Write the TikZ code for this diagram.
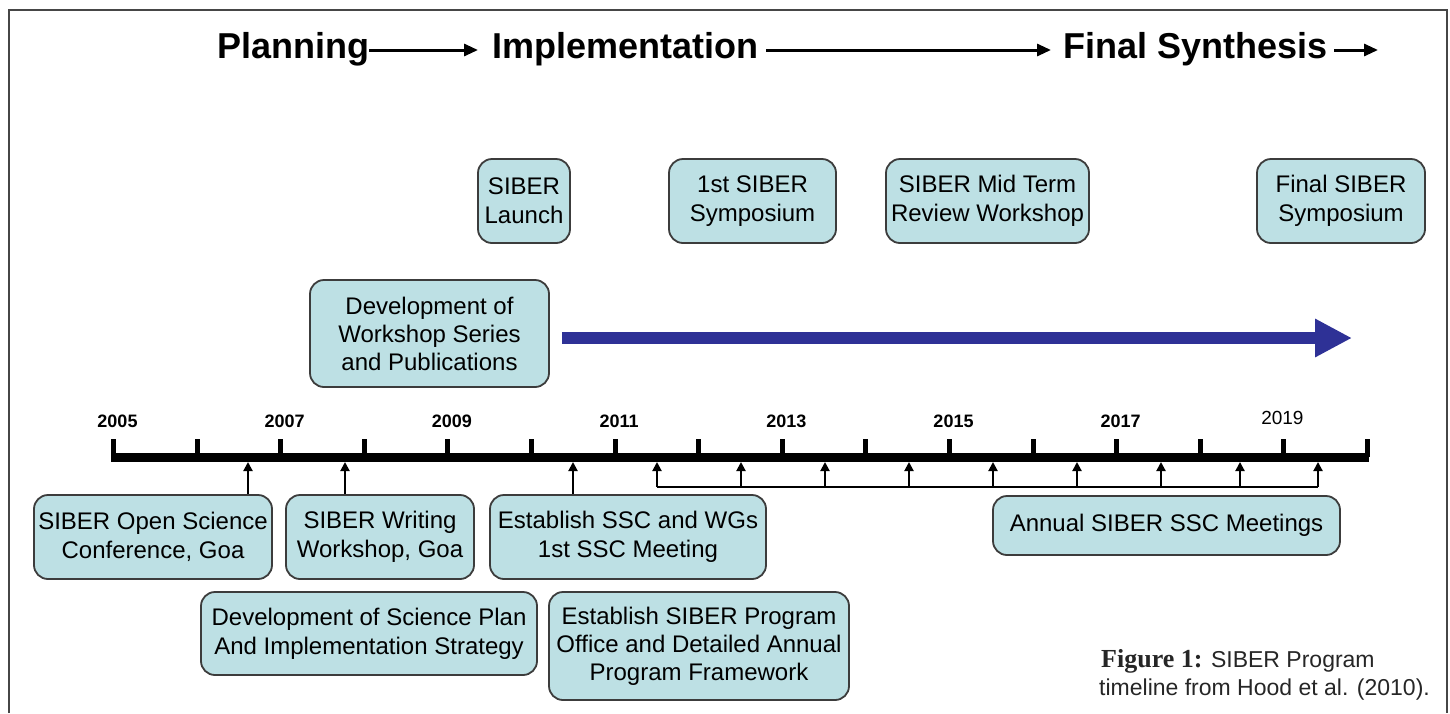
\documentclass[tikz,border=0pt]{standalone}
\usepackage{fontspec}
\setmainfont{Liberation Sans}
\newfontfamily\capserif{Liberation Serif}
\usetikzlibrary{arrows.meta}
\definecolor{boxfill}{RGB}{189,224,228}
\definecolor{boxline}{RGB}{60,60,60}
\definecolor{bluearrow}{RGB}{46,49,150}
\definecolor{framegray}{RGB}{70,70,70}
\begin{document}
\begin{tikzpicture}[x=1pt,y=-1pt,
  box/.style={draw=boxline, line width=1.8pt, fill=boxfill, rounded corners=14pt, align=center, inner sep=0pt, font=\fontsize{24}{29}\selectfont},
  hdr/.style={font=\bfseries\fontsize{36}{40}\selectfont, anchor=base west, inner sep=0pt},
  harrow/.style={line width=3pt, -{Triangle[width=12pt,length=14pt]}},
  yearlbl/.style={font=\bfseries\fontsize{18}{20}\selectfont, anchor=base, inner sep=0pt},
  ticksty/.style={line width=5pt},
  uparrow/.style={line width=2pt, -{Triangle[width=9pt,length=9pt]}},
  captxt/.style={font=\fontsize{23}{28}\selectfont, anchor=base west, inner sep=0pt, text=black!85},
]
\useasboundingbox (0,0) rectangle (1450,713);
% frame
\draw[framegray, line width=2pt] (9,713) -- (9,10) -- (1447,10) -- (1447,713);

% header
\node[hdr] (plan) at (217,58) {Planning};
\node[hdr] (impl) at (492,58) {Implementation};
\node[hdr] (fin) at (1063,58) {Final Synthesis};
\coordinate (finend) at (1378,50);
\draw[harrow, shorten >=14pt] (plan.east |- 0,50) -- (impl.west |- 0,50);
\draw[harrow, shorten >=12pt, shorten <=8pt] (impl.east |- 0,50) -- (fin.west |- 0,50);
\draw[harrow, shorten <=7pt] (fin.east |- 0,50) -- (finend);

% top boxes
\node[box, minimum width=92pt, minimum height=84pt] (launch) at (524,201) {SIBER\\Launch};
\node[box, minimum width=167pt, minimum height=84pt] (symp) at (752.5,201) {1st SIBER\\Symposium};
\node[box, minimum width=203pt, minimum height=84pt] (mid) at (987.5,201) {SIBER Mid Term\\Review Workshop};
\node[box, minimum width=168pt, minimum height=84pt] (final) at (1341,201) {Final SIBER\\Symposium};
\node[box, minimum width=239pt, minimum height=107pt, font=\fontsize{24}{28}\selectfont] (wks) at (429.5,333.5) {Development of\\Workshop Series\\and Publications};

% blue arrow
\coordinate (blueend) at (1352,338);
\draw[bluearrow, line width=12pt, -{Triangle[width=36pt,length=37pt]}] ([xshift=12pt,yshift=-4.5pt]wks.east) -- (blueend);

% timeline
\draw[line width=9pt] (111,457) -- (1369,457);
\foreach \k in {0,...,15} {
  \draw[ticksty] ({113.5+83.6*\k},439) -- ({113.5+83.6*\k},457);
}
\foreach \yr/\k in {2005/0,2007/2,2009/4,2011/6,2013/8,2015/10,2017/12} {
  \node[yearlbl] (y\yr) at ({117.5+83.6*\k},427) {\yr};
}
\node[yearlbl, font=\fontsize{19}{20}\selectfont] (y2019) at ({112+83.6*14},424) {2019};

% bottom boxes
\node[box, minimum width=238pt, minimum height=84pt] (osc) at (153,537) {SIBER Open Science\\Conference, Goa};
\node[box, minimum width=188pt, minimum height=84pt] (write) at (380,537) {SIBER Writing\\Workshop, Goa};
\node[box, minimum width=276pt, minimum height=84pt] (ssc) at (628,537) {Establish SSC and WGs\\1st SSC Meeting};
\node[box, minimum width=347pt, minimum height=59pt] (annual) at (1166.5,525.5) {Annual SIBER SSC Meetings};
\node[box, minimum width=336pt, minimum height=83pt] (sci) at (369,633.5) {Development of Science Plan\\And Implementation Strategy};
\node[box, minimum width=300pt, minimum height=108pt, font=\fontsize{24}{28}\selectfont] (office) at (699,646) {Establish SIBER Program\\Office and Detailed Annual\\Program Framework};

% up arrows
\coordinate (t1) at (248,462);
\coordinate (t2) at (345,462);
\coordinate (t3) at (573,462);
\draw[uparrow] (osc.north -| t1) -- (t1);
\draw[uparrow] (write.north -| t2) -- (t2);
\draw[uparrow] (ssc.north -| t3) -- (t3);

% annual bracket
\coordinate (bl) at (657,487);
\coordinate (br) at (1318,487);
\draw[line width=2pt] (bl) -- (br);
\foreach \x in {657,741,825,909,993,1077,1161,1240,1318} {
  \draw[uparrow] (\x,487) -- (\x,462);
}

% caption
\node[captxt] (cap1) at (1101,667) {{\capserif\bfseries\fontsize{26}{28}\selectfont Figure 1:} SIBER Program};
\node[captxt] (cap2) at (1099,695) {timeline from Hood et al. (2010).};
\end{tikzpicture}
\end{document}
